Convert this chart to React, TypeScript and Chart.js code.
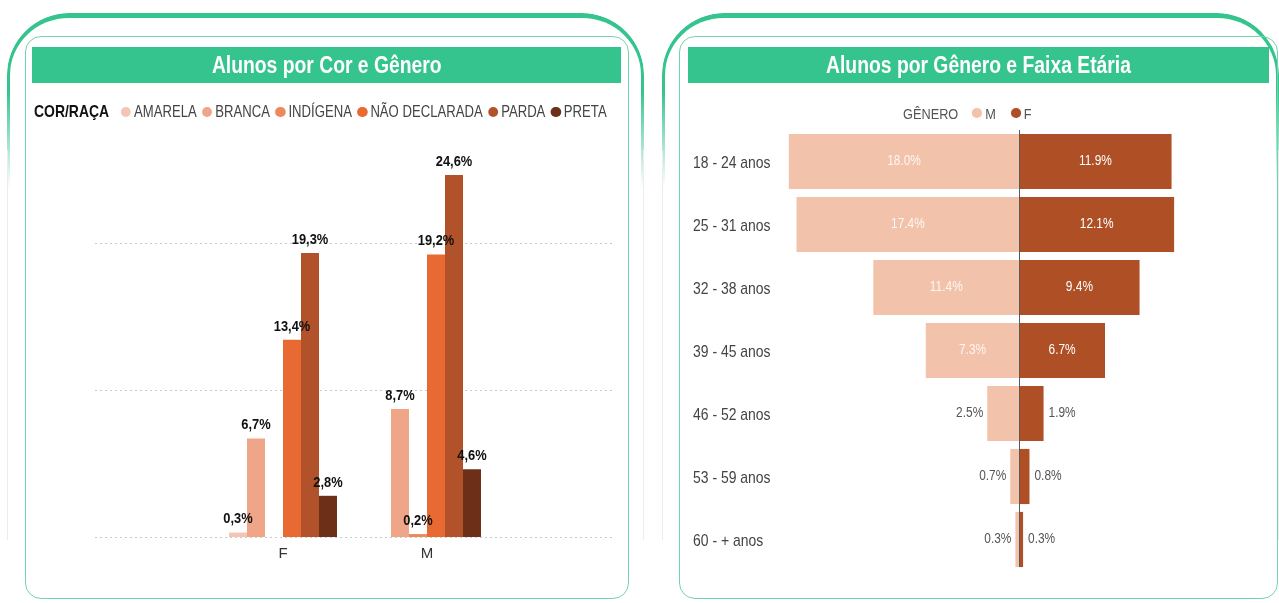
import React, { useEffect, useRef } from "react";
import { Chart, registerables } from "chart.js";

Chart.register(...registerables);

// ---------- data: left chart (Alunos por Cor e Gênero) ----------
const genderCategories = ["F", "M"];
const raceNames = ["AMARELA", "BRANCA", "INDÍGENA", "NÃO DECLARADA", "PARDA", "PRETA"];
const amarela = [0.3, null];
const branca = [6.7, 8.7];
const indigena = [null, 0.2];
const naoDeclarada = [13.4, 19.2];
const parda = [19.3, 24.6];
const preta = [2.8, 4.6];
const raceGridTicks = [0, 10, 20];

// ---------- data: right chart (Alunos por Gênero e Faixa Etária) ----------
const ageGroups = ["18 - 24 anos", "25 - 31 anos", "32 - 38 anos", "39 - 45 anos", "46 - 52 anos", "53 - 59 anos", "60 - + anos"];
const maleShare = [18.0, 17.4, 11.4, 7.3, 2.5, 0.7, 0.3];
const femaleShare = [11.9, 12.1, 9.4, 6.7, 1.9, 0.8, 0.3];
const genderNames = ["M", "F"];

// ---------- styles ----------
const raceColors = ["#F4C5B2", "#EFA587", "#EC8A5B", "#E86A32", "#B2522A", "#6D2F18"];
const genderColors = ["#F3C2AB", "#AE4F26"];
const GREEN = "#36C48E";
const LIGHT_GREEN = "#74D4B1";
const SANS = '"Liberation Sans", Arial, sans-serif';

function drawNarrow(ctx: any, txt: string, x: number, y: number, align: string, sx: number) {
  ctx.save();
  ctx.translate(x, y);
  ctx.scale(sx, 1);
  ctx.textAlign = align;
  ctx.fillText(txt, 0, 0);
  ctx.restore();
}

const raceGridPlugin = {
  id: "raceGrid",
  beforeDatasetsDraw(chart: any) {
    const ctx = chart.ctx;
    const y = chart.scales.y;
    ctx.save();
    ctx.strokeStyle = "#c9c9c9";
    ctx.lineWidth = 1;
    ctx.setLineDash([2, 3]);
    raceGridTicks.forEach((v) => {
      const py = Math.round(y.getPixelForValue(v)) + 0.5;
      ctx.beginPath();
      ctx.moveTo(65, py);
      ctx.lineTo(583, py);
      ctx.stroke();
    });
    ctx.restore();
  },
};

const raceLabelPlugin = {
  id: "raceLabels",
  afterDatasetsDraw(chart: any) {
    const ctx = chart.ctx;
    ctx.save();
    ctx.font = `bold 14px ${SANS}`;
    ctx.fillStyle = "#111";
    ctx.textBaseline = "bottom";
    chart.data.datasets.forEach((ds: any, i: number) => {
      const meta = chart.getDatasetMeta(i);
      meta.data.forEach((el: any, j: number) => {
        const v = ds.data[j];
        if (v == null) return;
        drawNarrow(ctx, v.toFixed(1).replace(".", ",") + "%", el.x, el.y - 6, "center", 0.92);
      });
    });
    ctx.restore();
  },
};

const ageLabelPlugin = {
  id: "ageLabels",
  afterDatasetsDraw(chart: any) {
    const ctx = chart.ctx;
    const xs = chart.scales.x;
    const ys = chart.scales.y;
    const area = chart.chartArea;
    ctx.save();
    // zero line
    const x0 = Math.round(xs.getPixelForValue(0)) + 0.5;
    ctx.strokeStyle = "#5a5a5a";
    ctx.lineWidth = 1;
    ctx.beginPath();
    ctx.moveTo(x0, area.top);
    ctx.lineTo(x0, area.bottom - 4);
    ctx.stroke();
    // category labels
    ctx.font = `17px ${SANS}`;
    ctx.fillStyle = "#444";
    ctx.textBaseline = "middle";
    chart.data.labels.forEach((lab: string, i: number) => {
      drawNarrow(ctx, lab, ys.left, ys.getPixelForTick(i) + 2, "left", 0.82);
    });
    // values
    ctx.font = `14px ${SANS}`;
    chart.data.datasets.forEach((ds: any, i: number) => {
      const meta = chart.getDatasetMeta(i);
      meta.data.forEach((el: any, j: number) => {
        const v = ds.data[j];
        const txt = Math.abs(v).toFixed(1) + "%";
        const w = Math.abs(el.x - el.base);
        if (w > 50) {
          ctx.fillStyle = i === 0 ? "rgba(255,255,255,0.85)" : "#ffffff";
          drawNarrow(ctx, txt, (el.x + el.base) / 2, el.y, "center", 0.85);
        } else if (v < 0) {
          ctx.fillStyle = "#555";
          drawNarrow(ctx, txt, Math.min(el.x, el.base) - 4, el.y, "right", 0.85);
        } else {
          ctx.fillStyle = "#555";
          drawNarrow(ctx, txt, Math.max(el.x, el.base) + 5, el.y, "left", 0.85);
        }
      });
    });
    ctx.restore();
  },
};

function RaceChart() {
  const ref = useRef<HTMLCanvasElement>(null);
  useEffect(() => {
    const seriesValues = [amarela, branca, indigena, naoDeclarada, parda, preta];
    const chart = new Chart(ref.current!, {
      type: "bar",
      data: {
        labels: genderCategories,
        datasets: raceNames.map((n, i) => ({
          label: n,
          data: seriesValues[i] as any,
          backgroundColor: raceColors[i],
          borderWidth: 0,
          barPercentage: 1,
          categoryPercentage: 0.75,
        })),
      },
      options: {
        responsive: false,
        animation: false,
        layout: { padding: { left: 181, right: 141, top: 0, bottom: 0 } },
        plugins: { legend: { display: false }, tooltip: { enabled: false } },
        scales: {
          x: {
            grid: { display: false, drawTicks: false },
            border: { display: false },
            ticks: { font: { family: SANS, size: 15 }, color: "#333", padding: 8 },
            afterFit: (s: any) => {
              s.height = 38;
            },
          },
          y: { display: false, min: 0, max: 28 },
        },
      },
      plugins: [raceGridPlugin, raceLabelPlugin],
    });
    return () => chart.destroy();
  }, []);
  return (
    <canvas
      ref={ref}
      width={610}
      height={450}
      style={{ position: "absolute", left: 30, top: 125, width: 610, height: 450 }}
    />
  );
}

function AgeChart() {
  const ref = useRef<HTMLCanvasElement>(null);
  useEffect(() => {
    const chart = new Chart(ref.current!, {
      type: "bar",
      data: {
        labels: ageGroups,
        datasets: [
          { label: genderNames[0], data: maleShare.map((v) => -v), backgroundColor: genderColors[0] },
          { label: genderNames[1], data: femaleShare, backgroundColor: genderColors[1] },
        ].map((d) => ({ ...d, borderWidth: 0, barPercentage: 0.875, categoryPercentage: 1 })),
      },
      options: {
        indexAxis: "y",
        responsive: false,
        animation: false,
        layout: { padding: { left: 10, right: 10, top: 5, bottom: 14 } },
        plugins: { legend: { display: false }, tooltip: { enabled: false } },
        scales: {
          x: { stacked: true, display: false, min: -18.3, max: 19.2 },
          y: {
            stacked: true,
            grid: { display: false },
            border: { display: false },
            ticks: { display: false },
            afterFit: (s: any) => {
              s.width = 92;
            },
          },
        },
      },
      plugins: [ageLabelPlugin],
    });
    return () => chart.destroy();
  }, []);
  return (
    <canvas
      ref={ref}
      width={592}
      height={460}
      style={{ position: "absolute", left: 683, top: 125, width: 592, height: 460 }}
    />
  );
}

function Frame({ outerLeft, outerWidth, innerLeft, innerWidth }: any) {
  return (
    <>
      <div
        style={{
          position: "absolute",
          left: outerLeft,
          top: 13,
          width: outerWidth - 6,
          height: 170,
          borderTop: `5px solid ${GREEN}`,
          borderLeft: `3px solid ${GREEN}`,
          borderRight: `3px solid ${GREEN}`,
          borderTopLeftRadius: 62,
          borderTopRightRadius: 62,
          boxSizing: "content-box",
          WebkitMaskImage: "linear-gradient(to bottom, black 45%, transparent 100%)",
          maskImage: "linear-gradient(to bottom, black 45%, transparent 100%)",
        }}
      />
      <div style={{ position: "absolute", left: outerLeft, top: 150, width: 1, height: 390, background: "#ececec" }} />
      <div style={{ position: "absolute", left: outerLeft + outerWidth - 1, top: 150, width: 1, height: 390, background: "#ececec" }} />
      <div
        style={{
          position: "absolute",
          left: innerLeft,
          top: 36,
          width: innerWidth,
          height: 563,
          border: `1.5px solid ${LIGHT_GREEN}`,
          borderRadius: 16,
          boxSizing: "border-box",
        }}
      />
    </>
  );
}

function TitleBar({ left, width, text }: any) {
  return (
    <div
      style={{
        position: "absolute",
        left,
        top: 47,
        width,
        height: 36,
        background: GREEN,
        display: "flex",
        alignItems: "center",
        justifyContent: "center",
      }}
    >
      <span
        style={{
          display: "inline-block",
          color: "#fff",
          fontFamily: SANS,
          fontWeight: "bold",
          fontSize: 23,
          whiteSpace: "nowrap",
          transform: "scaleX(0.84)",
          transformOrigin: "center",
        }}
      >
        {text}
      </span>
    </div>
  );
}

function Dot({ color, sx }: any) {
  return (
    <span
      style={{
        display: "inline-block",
        width: 10 / sx,
        height: 10,
        borderRadius: "50%",
        background: color,
        marginRight: 3 / sx,
      }}
    />
  );
}

const LEG_SX = 0.82;
const GEN_SX = 0.85;

export default function App() {
  return (
    <div
      style={{
        position: "fixed",
        left: 0,
        top: 0,
        width: 1279,
        height: 603,
        background: "#fff",
        overflow: "hidden",
      }}
    >
      <Frame outerLeft={7} outerWidth={637} innerLeft={25} innerWidth={604} />
      <Frame outerLeft={662} outerWidth={617} innerLeft={679} innerWidth={599} />
      <TitleBar left={32} width={589} text="Alunos por Cor e Gênero" />
      <TitleBar left={688} width={581} text="Alunos por Gênero e Faixa Etária" />

      <div
        style={{
          position: "absolute",
          left: 34,
          top: 101,
          height: 22,
          display: "flex",
          alignItems: "center",
          fontFamily: SANS,
          fontSize: 16,
          color: "#444",
          whiteSpace: "nowrap",
          transform: `scaleX(${LEG_SX})`,
          transformOrigin: "left center",
        }}
      >
        <span style={{ fontWeight: "bold", color: "#111", fontSize: 17, marginRight: 12 / LEG_SX }}>COR/RAÇA</span>
        {raceNames.map((n, i) => (
          <span key={n} style={{ display: "inline-flex", alignItems: "center", marginRight: 5.5 / LEG_SX }}>
            <Dot color={raceColors[i]} sx={LEG_SX} />
            {n}
          </span>
        ))}
      </div>

      <div
        style={{
          position: "absolute",
          left: 903,
          top: 102,
          height: 22,
          display: "flex",
          alignItems: "center",
          fontFamily: SANS,
          fontSize: 15,
          color: "#555",
          whiteSpace: "nowrap",
          transform: `scaleX(${GEN_SX})`,
          transformOrigin: "left center",
        }}
      >
        <span style={{ marginRight: 14 / GEN_SX }}>GÊNERO</span>
        {genderNames.map((n, i) => (
          <span key={n} style={{ display: "inline-flex", alignItems: "center", marginRight: 15 / GEN_SX }}>
            <Dot color={genderColors[i]} sx={GEN_SX} />
            {n}
          </span>
        ))}
      </div>

      <RaceChart />
      <AgeChart />
    </div>
  );
}
